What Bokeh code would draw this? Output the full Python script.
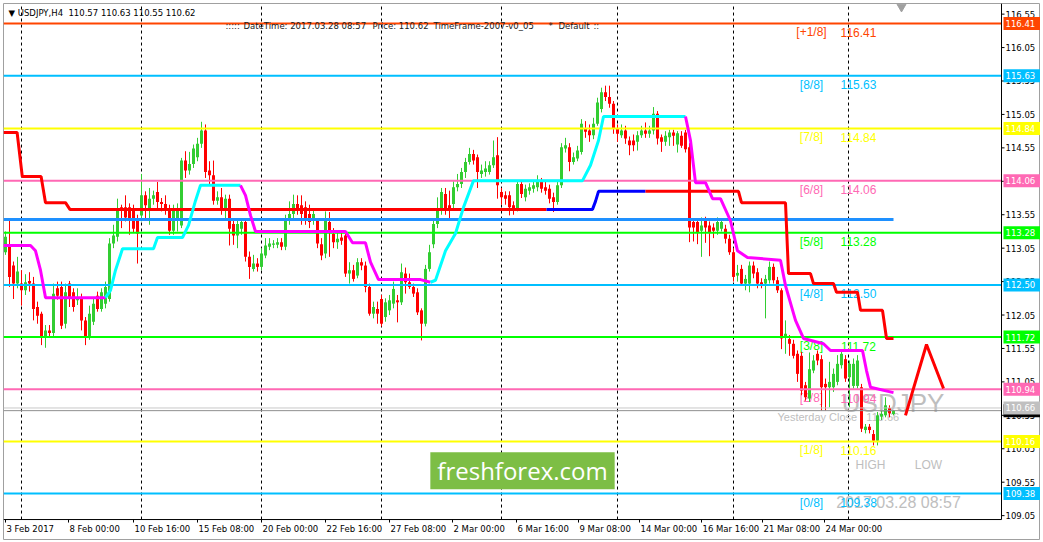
from bokeh.plotting import figure
from bokeh.models import ColumnDataSource, Range1d, Label
from bokeh.core.properties import value
from bokeh.embed import file_html
from bokeh.resources import INLINE

# ---------------- data (USDJPY, H4) ----------------
opens = [112.99,113.07,112.79,112.52,112.52,112.42,112.56,112.52,112.17,112.07,
         111.72,111.82,111.78,112.45,112.47,111.92,112.52,112.39,112.27,112.32,
         111.97,111.72,111.95,112.34,112.14,112.22,112.29,113.12,113.22,113.66,
         113.66,113.66,113.61,113.49,113.54,113.84,113.64,113.79,113.89,113.74,
         113.71,113.61,113.31,113.46,113.39,114.36,114.21,114.31,114.41,114.61,
         114.81,114.21,114.14,113.76,113.81,113.61,113.79,113.41,113.24,113.34,
         113.44,112.92,112.74,112.82,112.77,112.94,113.07,113.10,113.10,113.14,
         113.07,113.46,113.56,113.71,113.69,113.66,113.56,113.46,113.46,113.11,
         112.97,113.44,113.26,113.14,113.21,113.24,112.67,112.72,112.64,112.84,
         112.79,112.47,112.07,112.14,112.29,112.02,112.12,112.22,112.27,112.24,
         112.67,112.54,112.47,112.39,112.12,111.92,112.74,113.11,113.41,113.61,
         113.86,113.69,113.71,113.96,114.01,114.19,114.34,114.46,114.41,114.16,
         114.19,114.19,114.29,114.44,113.89,113.84,113.84,113.69,113.64,114.01,
         113.81,113.91,113.94,113.96,114.04,113.96,113.94,113.81,113.74,113.99,
         114.54,114.56,114.34,114.39,114.49,114.84,114.81,114.74,114.91,115.13,
         115.38,115.31,115.21,114.84,114.74,114.81,114.66,114.66,114.64,114.74,
         114.81,114.76,114.81,115.06,114.71,114.64,114.71,114.78,114.60,114.73,
         114.78,114.56,113.44,113.44,113.31,113.49,113.39,113.36,113.31,113.34,
         113.34,113.19,112.99,112.64,112.74,112.52,112.52,112.79,112.69,112.54,
         112.52,112.57,112.77,112.57,112.42,111.72,111.69,111.62,111.47,111.44,
         111.00,110.80,111.22,111.47,111.39,111.02,110.97,110.97,111.05,111.30,
         111.39,111.12,110.99,110.99,110.97,110.33,110.38,110.27,110.17,110.53,
         110.55,110.66,110.57]
highs = [113.30,113.47,112.85,112.92,112.72,112.66,112.69,112.62,112.25,112.10,
         111.90,111.90,112.52,112.55,112.55,112.52,112.56,112.45,112.45,112.37,
         112.02,112.19,112.30,112.40,112.45,112.55,113.20,113.40,113.79,113.70,
         113.84,113.72,113.70,113.55,114.16,113.90,113.95,113.91,114.04,113.80,
         113.84,113.70,113.70,113.72,114.40,114.50,114.49,114.60,114.70,114.94,
         114.90,114.35,114.36,113.90,113.95,113.85,113.85,113.50,113.50,113.50,
         113.50,113.00,112.95,112.90,113.05,113.20,113.20,113.17,113.20,113.20,
         113.55,113.75,113.85,113.84,113.84,113.75,113.70,113.65,113.50,113.20,
         113.60,113.59,113.35,113.31,113.28,113.30,112.84,112.80,112.90,112.90,
         112.85,112.52,112.25,112.25,112.35,112.30,112.35,112.55,112.35,112.82,
         112.76,112.67,112.52,112.45,112.15,112.80,113.10,113.50,113.81,113.95,
         113.95,113.91,114.05,114.16,114.25,114.40,114.55,114.52,114.45,114.30,
         114.35,114.35,114.66,114.71,113.95,113.90,113.90,113.75,114.06,114.06,
         114.00,114.02,114.05,114.14,114.10,114.05,114.00,113.88,114.05,114.62,
         114.70,114.62,114.48,114.58,114.98,114.95,114.90,115.00,115.30,115.45,
         115.48,115.48,115.25,114.90,114.90,114.88,114.72,114.75,114.80,114.88,
         114.93,114.88,115.16,115.10,114.75,114.80,114.82,114.82,114.80,114.80,
         114.82,114.62,113.50,113.50,113.51,113.52,113.45,113.42,113.51,113.50,
         113.40,113.25,113.05,112.80,112.80,112.65,112.85,112.85,112.75,112.60,
         112.65,112.85,112.82,112.62,112.45,111.97,111.75,111.68,111.52,111.50,
         111.05,111.49,111.45,111.52,111.45,111.10,111.35,111.25,111.45,111.52,
         111.45,111.37,111.40,111.45,111.02,110.42,110.42,110.33,110.60,110.62,
         110.82,110.70,110.63]
lows = [112.95,112.47,112.29,112.45,112.19,112.35,112.40,111.97,111.92,111.60,
        111.56,111.72,111.72,112.28,111.84,111.85,112.17,112.10,112.20,111.82,
        111.60,111.68,111.90,112.10,112.10,112.15,112.25,113.05,113.15,113.35,
        113.45,113.25,113.28,112.82,113.45,113.46,113.40,113.70,113.61,113.60,
        113.55,113.25,113.25,113.30,113.35,114.10,114.15,114.25,114.35,114.55,
        114.10,114.00,113.70,113.70,113.55,113.50,113.09,113.10,113.05,113.25,
        112.85,112.59,112.70,112.70,112.72,112.90,113.02,113.05,113.05,113.02,
        113.02,113.40,113.50,113.55,113.40,113.40,113.35,113.40,113.05,112.87,
        112.90,112.92,113.05,113.04,113.10,112.62,112.52,112.55,112.60,112.72,
        112.39,112.04,112.00,111.92,111.88,111.95,112.05,112.15,111.94,112.20,
        112.37,112.44,112.32,112.05,111.67,111.88,112.70,113.05,113.35,113.55,
        113.55,113.46,113.65,113.90,113.95,114.10,114.30,114.30,113.95,114.10,
        114.12,114.15,114.25,113.79,113.70,113.70,113.54,113.55,113.60,113.80,
        113.75,113.85,113.88,113.90,113.88,113.85,113.72,113.59,113.70,113.95,
        114.48,114.20,114.30,114.35,114.45,114.70,114.64,114.68,114.88,115.08,
        115.25,115.15,114.76,114.64,114.70,114.61,114.44,114.50,114.51,114.70,
        114.70,114.70,114.75,114.60,114.49,114.58,114.58,114.58,114.48,114.55,
        114.48,113.14,113.15,113.11,112.92,113.13,112.93,113.20,113.25,113.30,
        113.12,112.95,112.55,112.55,112.50,112.42,112.39,112.60,112.45,112.45,
        112.00,112.52,112.52,112.38,111.54,111.47,111.44,111.40,111.05,110.85,
        110.77,110.75,111.18,111.30,110.62,110.62,110.67,110.90,111.00,111.25,
        111.05,110.67,110.95,110.95,110.30,110.28,110.28,110.10,110.10,110.48,
        110.52,110.52,110.55]
closes = [113.22,112.62,112.52,112.70,112.42,112.54,112.52,112.14,112.04,111.72,
          111.82,111.78,112.37,112.34,111.89,112.39,112.32,112.17,112.32,111.97,
          111.72,112.07,112.22,112.14,112.39,112.47,113.12,113.24,113.61,113.61,
          113.51,113.49,113.34,113.27,113.84,113.69,113.79,113.84,113.74,113.71,
          113.61,113.31,113.61,113.61,114.36,114.21,114.31,114.54,114.61,114.81,
          114.19,114.14,113.76,113.81,113.61,113.79,113.34,113.24,113.41,113.44,
          112.92,112.77,112.82,112.77,112.97,113.09,113.12,113.12,113.14,113.07,
          113.46,113.56,113.71,113.61,113.56,113.49,113.44,113.56,113.12,112.94,
          113.46,113.31,113.14,113.19,113.16,112.67,112.72,112.59,112.84,112.79,
          112.47,112.07,112.17,112.07,111.92,112.24,112.27,112.44,112.24,112.69,
          112.54,112.47,112.37,112.09,111.92,112.74,112.99,113.41,113.61,113.89,
          113.64,113.64,113.96,114.01,114.19,114.34,114.46,114.36,114.19,114.21,
          114.24,114.29,114.41,113.99,113.81,113.79,113.66,113.64,114.01,113.86,
          113.94,113.96,113.99,114.04,113.94,113.91,113.79,113.74,113.99,114.56,
          114.59,114.34,114.41,114.51,114.91,114.79,114.74,114.91,115.23,115.38,
          115.31,115.21,114.84,114.76,114.81,114.69,114.59,114.59,114.74,114.81,
          114.76,114.81,115.06,114.69,114.64,114.73,114.78,114.73,114.77,114.58,
          114.53,113.36,113.36,113.29,113.39,113.36,113.29,113.31,113.44,113.44,
          113.19,112.99,112.62,112.68,112.52,112.59,112.79,112.67,112.52,112.49,
          112.59,112.77,112.57,112.42,111.70,111.77,111.62,111.44,111.17,110.92,
          110.82,111.24,111.37,111.37,110.97,110.97,111.05,111.17,111.32,111.47,
          111.10,111.32,111.32,111.37,110.35,110.38,110.33,110.17,110.55,110.57,
          110.70,110.58,110.62]

# time axis
tick_bars = [0, 15.75, 32, 48, 64, 80, 96, 111.75, 127.75, 143.25, 158.5, 174, 189.25, 204.75]
tick_labels = ["3 Feb 2017", "8 Feb 00:00", "10 Feb 16:00", "15 Feb 08:00", "20 Feb 00:00",
               "22 Feb 16:00", "27 Feb 08:00", "2 Mar 00:00", "6 Mar 16:00", "9 Mar 08:00",
               "14 Mar 00:00", "16 Mar 16:00", "21 Mar 08:00", "24 Mar 00:00"]
week_bars = [4, 34, 64, 94, 124, 153, 182, 210.75]
price_ticks = [109.05, 109.55, 110.05, 110.55, 111.05, 111.55, 112.05, 112.55,
               113.05, 113.55, 114.05, 114.55, 115.05, 115.55, 116.05, 116.55]

# Murrey math levels
level_prices = [116.41, 115.63, 114.84, 114.06, 113.28, 112.50, 111.72, 110.94, 110.16, 109.38]
level_names = ["[+1/8]", "[8/8]", "[7/8]", "[6/8]", "[5/8]", "[4/8]", "[3/8]", "[2/8]", "[1/8]", "[0/8]"]
level_colors = ["#FF4500", "#00BFFF", "#FFFF00", "#FF69B4", "#00FF00",
                "#00BFFF", "#00FF00", "#FF69B4", "#FFFF00", "#00BFFF"]
yesterday_close = 110.66
bid_price = 110.62

# horizontal support line
support_price = 113.48
support_end_bar = 222

# stepped indicator (red / blue)
red1_x = [-0.5, 2.9, 4.2, 8.9, 10, 15, 16.1, 135.25]
red1_y = [114.78, 114.78, 114.12, 114.12, 113.73, 113.73, 113.63, 113.63]
blue_x = [135.25, 146.75, 147.5, 148.25, 160]
blue_y = [113.63, 113.63, 113.75, 113.90, 113.90]
red2_x = [160, 183.25, 184, 195, 195.75, 201.25, 202, 207, 207.75, 213, 213.75, 219.25, 220.25, 222]
red2_y = [113.90, 113.90, 113.73, 113.73, 112.67, 112.67, 112.52, 112.52, 112.39, 112.39,
          112.12, 112.12, 111.70, 111.70]

# trailing line (magenta / cyan segments)
trail_segments = [
    ("#FF00FF", [-0.5, 6.25, 7.5, 8.75, 10, 25],
                [113.09, 113.09, 113.01, 112.72, 112.31, 112.31]),
    ("#00FFFF", [25, 26.25, 27.5, 29.25, 37, 38, 44.25, 45.75, 47.5, 48.75, 58.75],
                [112.31, 112.42, 112.72, 113.04, 113.04, 113.21, 113.21, 113.39, 113.76, 113.99, 113.99]),
    ("#FF00FF", [58.75, 60, 61.25, 62.5, 85, 86.75, 90, 91.25, 93.25, 103.75, 106.25],
                [113.99, 113.84, 113.54, 113.30, 113.30, 113.13, 113.13, 112.84, 112.58, 112.58, 112.54]),
    ("#00FFFF", [106.25, 107.5, 110, 112.5, 114.5, 117, 144.25, 146.25, 148.25, 149.5, 170],
                [112.54, 112.57, 113.01, 113.27, 113.66, 114.06, 114.06, 114.29, 114.66, 115.02, 115.02]),
    ("#FF00FF", [170, 171.25, 172.5, 175, 176.75, 178.75, 181.25, 183, 185.5, 193.75, 195,
                 197.5, 199.5, 204.5, 206.25, 214.25, 215.25, 216.25, 222],
                [115.02, 114.66, 114.03, 114.03, 113.79, 113.79, 113.46, 113.01, 112.91, 112.87,
                 112.49, 111.97, 111.70, 111.62, 111.52, 111.52, 111.22, 110.97, 110.89]),
]

# forecast zig-zag
zig_x = [225.0, 230.25, 234.5]
zig_y = [110.55, 111.61, 110.95]

# ---------------- layout constants ----------------
X_START, X_END = -0.5, 258.75       # frame covers chart + price-scale strip
Y_START, Y_END = 108.678, 116.709   # frame covers chart + time-scale strip
AXIS_BAR = 249                      # x position of the price scale line
AXIS_PRICE = 108.9915               # y position of the time scale line
PX = 1 / 66.86                      # one pixel in price units
SILVER = "#BEBEBE"
AX_FONT = value("DejaVu Sans")
TXT_FONT = value("Liberation Sans")

p = figure(frame_width=1037, frame_height=537,
           x_range=Range1d(X_START, X_END), y_range=Range1d(Y_START, Y_END),
           x_axis_location=None, y_axis_location=None,
           toolbar_location=None, output_backend="svg",
           min_border_left=3, min_border_top=3, min_border_right=0, min_border_bottom=0)
p.background_fill_color = "white"
p.border_fill_color = "white"
p.outline_line_color = "#A0A0A0"
p.grid.visible = False

# weekly dashed grid
nw = len(week_bars)
p.segment(x0=week_bars, x1=week_bars, y0=[AXIS_PRICE] * nw, y1=[Y_END] * nw,
          line_color="black", line_width=1, line_dash="3 3")

# ---------------- background texts ----------------
p.text(x=[223.25], y=[109.25], text=["2017.03.28 08:57"], text_color=SILVER,
       text_font=TXT_FONT, text_font_size="16px", text_align="center", text_baseline="middle")
p.text(x=[221.9], y=[110.73], text=["USDJPY"], text_color=SILVER,
       text_font=TXT_FONT, text_font_size="26px", text_align="center", text_baseline="middle")
p.text(x=[193], y=[110.53], text=["Yesterday Close\u00a0\u00a0\u00a0110.66"], text_color=SILVER,
       text_font=TXT_FONT, text_font_size="11px", text_align="left", text_baseline="middle")
p.text(x=[216.25, 230.75], y=[109.81, 109.81], text=["HIGH", "LOW"], text_color=SILVER,
       text_font=TXT_FONT, text_font_size="12px", text_align="center", text_baseline="middle")

p.text(x=[201.5] * len(level_prices), y=level_prices, text=level_names, text_color=level_colors,
       text_font=TXT_FONT, text_font_size="12px", text_align="center", text_baseline="middle",
       y_offset=9)
p.text(x=[213.25] * len(level_prices), y=level_prices, text=[f"{v:.2f}" for v in level_prices],
       text_color=level_colors, text_font=TXT_FONT, text_font_size="12px",
       text_align="center", text_baseline="middle", y_offset=9)

# ---------------- candles ----------------
n = len(closes)
src = ColumnDataSource(dict(
    x=list(range(n)), o=opens, h=highs, l=lows, c=closes,
    top=[max(a, b) for a, b in zip(opens, closes)],
    bottom=[min(a, b) for a, b in zip(opens, closes)],
    color=["#32CD32" if c >= o else "#FF0000" for o, c in zip(opens, closes)],
))
p.segment(x0="x", y0="l", x1="x", y1="h", color="color", line_width=1, source=src)
p.vbar(x="x", width=0.75, top="top", bottom="bottom", fill_color="color", line_color=None, source=src)

# ---------------- level lines ----------------
nl = len(level_prices)
p.segment(x0=[X_START] * nl, x1=[AXIS_BAR] * nl, y0=level_prices, y1=level_prices,
          line_color=level_colors, line_width=2)
p.segment(x0=[X_START, X_START], x1=[AXIS_BAR, AXIS_BAR],
          y0=[yesterday_close, bid_price], y1=[yesterday_close, bid_price],
          line_color=["#C8C8C8", "#909090"], line_width=1)

p.segment(x0=[X_START], y0=[support_price], x1=[support_end_bar], y1=[support_price],
          line_color="#1E90FF", line_width=3)

# stepped lines
p.line(red1_x, red1_y, line_color="#FF0000", line_width=3)
p.line(blue_x, blue_y, line_color="#0000FF", line_width=3)
p.line(red2_x, red2_y, line_color="#FF0000", line_width=3)
for col, xs, ys in trail_segments:
    p.line(xs, ys, line_color=col, line_width=3)

p.line(zig_x, zig_y, line_color="#FF0000", line_width=3)

# chart-shift marker
p.scatter(x=[224], y=[116.66], marker="inverted_triangle", size=9,
          fill_color="#A0A0A0", line_color="#A0A0A0")

# ---------------- header texts ----------------
p.text(x=[0.75], y=[116.56], text=["\u25BC USDJPY,H4\u00a0\u00a0110.57 110.63 110.55 110.62"],
       text_color="black", text_font=AX_FONT, text_font_size="8.5px",
       text_align="left", text_baseline="middle")
info_x = [55, 59.5, 91.75, 107, 135.75, 138.25, 147]
info_t = [":::::", "DateTime: 2017.03.28 08:57", "Price: 110.62", "TimeFrame-2007-v0_05",
          "*", "Default", "::"]
p.text(x=info_x, y=[116.373] * len(info_x), text=info_t, text_color="#202020",
       text_font=AX_FONT, text_font_size="8.5px", text_align="left", text_baseline="middle")

# ---------------- time scale (bottom) ----------------
p.segment(x0=[X_START], x1=[AXIS_BAR], y0=[AXIS_PRICE], y1=[AXIS_PRICE],
          line_color="black", line_width=1)
nt = len(tick_bars)
p.segment(x0=tick_bars, x1=tick_bars, y0=[AXIS_PRICE] * nt, y1=[AXIS_PRICE - 3 * PX] * nt,
          line_color="black", line_width=1)
p.text(x=tick_bars, y=[AXIS_PRICE - 9.5 * PX] * nt, text=tick_labels, text_color="black",
       text_font=AX_FONT, text_font_size="8.5px", text_align="left", text_baseline="middle",
       x_offset=1)

# ---------------- price scale (right) ----------------
p.segment(x0=[AXIS_BAR], x1=[AXIS_BAR], y0=[AXIS_PRICE], y1=[Y_END], line_color="black", line_width=1)
npt = len(price_ticks)
p.segment(x0=[AXIS_BAR] * npt, x1=[AXIS_BAR + 0.75] * npt, y0=price_ticks, y1=price_ticks,
          line_color="black", line_width=1)
p.text(x=[AXIS_BAR + 1] * npt, y=price_ticks, text=[f"{v:.2f}" for v in price_ticks],
       text_color="black", text_font=AX_FONT, text_font_size="8.5px",
       text_align="left", text_baseline="middle")

box_prices = level_prices + [bid_price, yesterday_close]
box_colors = level_colors + ["#000000", "#C0C0C0"]
for pr, col in zip(box_prices, box_colors):
    p.rect(x=[AXIS_BAR + 5.125], y=[pr], width=37, height=13,
           width_units="screen", height_units="screen", fill_color=col, line_color=None)
    p.text(x=[AXIS_BAR + 1], y=[pr], text=[f"{pr:.2f}"], text_color="white",
           text_font=AX_FONT, text_font_size="8.5px", text_align="left", text_baseline="middle")

# ---------------- logo ----------------
p.add_layout(Label(x=129.25, y=109.72, text="freshforex.com", text_color="white",
                   text_font="Open Sans", text_font_size="24px", text_align="center",
                   text_baseline="middle", background_fill_color="#7DBE45", padding=(7, 2)))

open("out.html", "w").write(file_html(p, INLINE))
